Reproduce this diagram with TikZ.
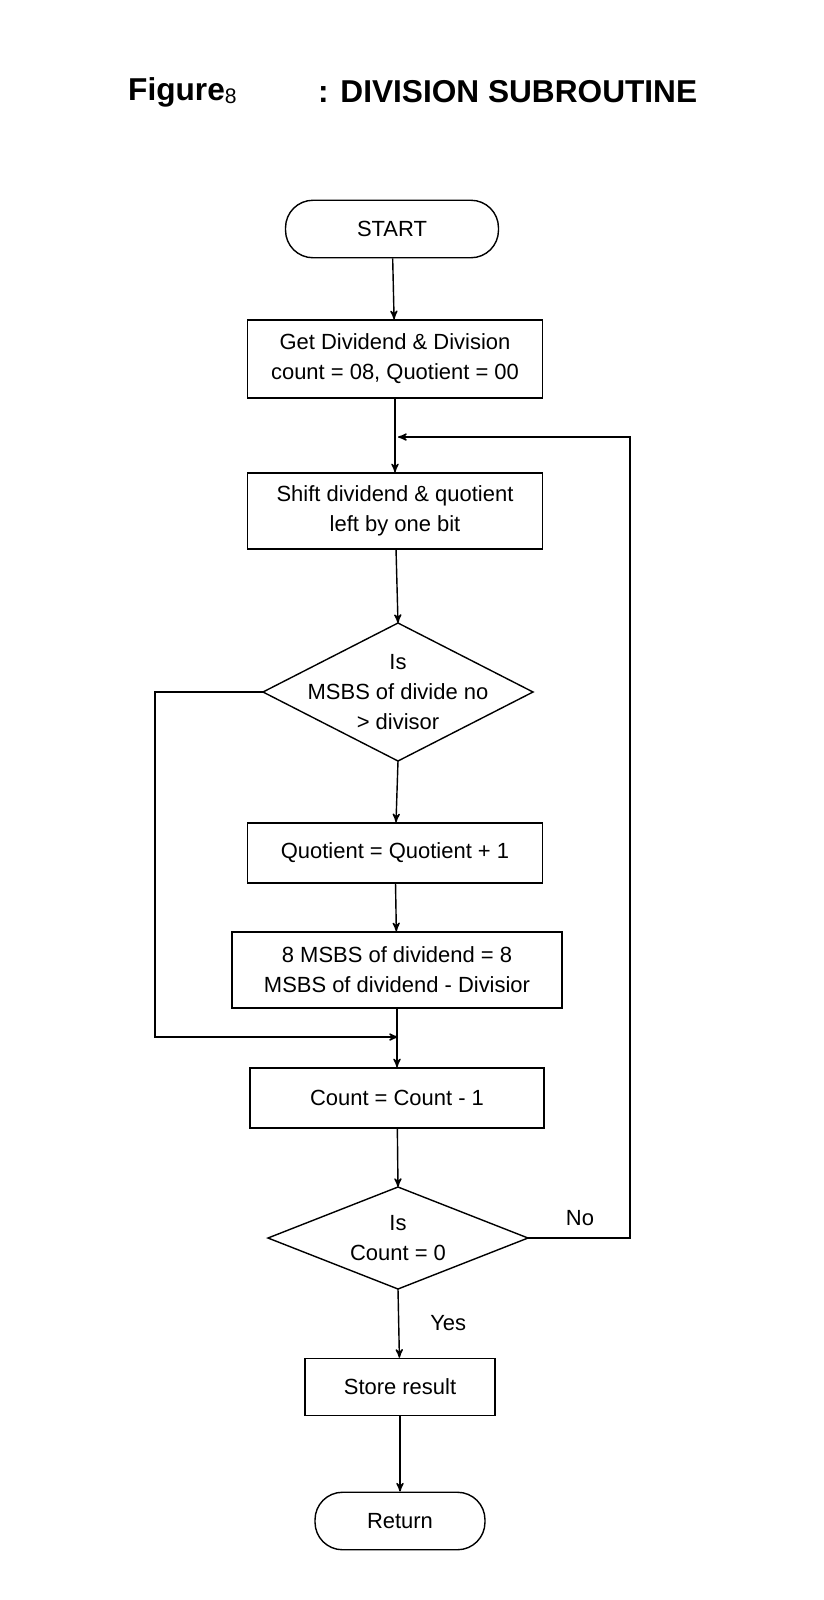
\documentclass[tikz,border=0pt]{standalone}
\usepackage{fontspec}
\setmainfont{Liberation Sans}
\usetikzlibrary{arrows,shapes.geometric,positioning,calc}
\tikzset{x=0.02cm, y=-0.02cm,
        every node/.style={font=\fontsize{12.5}{17}\selectfont, align=center},
        block/.style={ % process boxes
            draw, thick, minimum height=1.2cm, inner sep=2pt},
        term/.style={ % start and end
            draw, thick, rounded corners=0.55cm, minimum height=1.15cm},
        flow/.style={ % connectors
            draw, thick, ->, >=stealth'}
        }
% decision: diamond drawn round a text node, half width #2 and half height #3
\newcommand{\decide}[4]{%
    \node (#1) at #4 {};
    \coordinate (#1W) at ($(#1)+(-#2,0)$);
    \coordinate (#1E) at ($(#1)+(#2,0)$);
    \coordinate (#1N) at ($(#1)+(0,-#3)$);
    \coordinate (#1S) at ($(#1)+(0,#3)$);
    \draw[thick] (#1W) -- (#1N) -- (#1E) -- (#1S) -- cycle;}
\begin{document}
\begin{tikzpicture}
    \useasboundingbox (0,0) rectangle (824,1600);
    \node[font=\fontsize{18}{20}\selectfont\bfseries, anchor=west] (title) at (122,92)
        {Figure{\fontsize{12}{12}\selectfont\rmfamily\mdseries\raisebox{-0.3ex}{8}}};
    \node[font=\fontsize{18}{20}\selectfont\bfseries, anchor=west] (caption) at (312,92) {: DIVISION SUBROUTINE};

    \node[term, minimum width=4.26cm] (start) at (392,229) {START};
    \node[block, minimum width=5.9cm, minimum height=1.56cm] (get) at (395,359) {Get Dividend \& Division\\count = 08, Quotient = 00};
    \node[block, minimum width=5.9cm, minimum height=1.52cm] (shift) at (395,511) {Shift dividend \& quotient\\left by one bit};
    \decide{msbs}{135}{69}{(398,692)}
    \node at (msbs) {Is\\MSBS of divide no\\> divisor};
    \node[block, minimum width=5.9cm] (inc) at (395,853) {Quotient = Quotient + 1};
    \node[block, minimum width=6.6cm, minimum height=1.52cm] (sub) at (397,970) {8 MSBS of dividend = 8\\MSBS of dividend - Divisior};
    \node[block, minimum width=5.88cm] (dec) at (397,1098) {Count = Count - 1};
    \decide{zero}{130}{51}{(398,1238)}
    \node at (zero) {Is\\Count = 0};
    \node[block, minimum width=3.8cm, minimum height=1.14cm] (store) at (400,1387) {Store result};
    \node[term, minimum width=3.4cm] (ret) at (400,1521) {Return};

    \coordinate (top) at (398,437);
    \coordinate (join) at (398,1037);

    \draw[flow] (start) -- (get);
    \draw[flow] (get) -- (shift);
    \draw[flow] (shift) -- (msbsN);
    \draw[flow] (msbsS) -- (inc);
    \draw[flow] (inc) -- (sub);
    \draw[flow] (sub) -- (dec);
    \draw[flow] (msbsW) -| (155,1037) -- (join);
    \draw[flow] (dec) -- (zeroN);
    \draw[flow] (zeroE) -- (630,1238) |- (top);
    \draw[flow] (zeroS) -- node[right=0.5cm] {Yes} (store);
    \draw[flow] (store) -- (ret);
    \node (no) at (580,1218) {No};
\end{tikzpicture}
\end{document}
